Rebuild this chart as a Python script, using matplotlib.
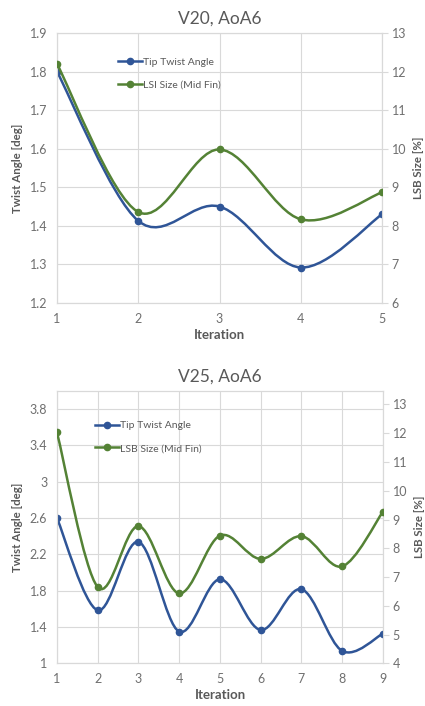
import numpy as np
import matplotlib
matplotlib.use("Agg")
import matplotlib.pyplot as plt
from matplotlib.path import Path
from matplotlib.patches import PathPatch
from matplotlib.lines import Line2D

plt.rcParams['font.family'] = ['Lato', 'DejaVu Sans']

BLUE = "#2f5597"
GREEN = "#548235"
TXT = "#595959"
TICK = "#6f6f6f"
GRID = "#d9d9d9"

# V20, AoA6
iter_v20 = [1, 2, 3, 4, 5]
twist_v20 = [1.80, 1.413, 1.45, 1.292, 1.43]
lsb_v20 = [12.20, 8.36, 9.98, 8.17, 8.87]

# V25, AoA6
iter_v25 = [1, 2, 3, 4, 5, 6, 7, 8, 9]
twist_v25 = [2.60, 1.584, 2.338, 1.349, 1.926, 1.367, 1.816, 1.136, 1.327]
lsb_v25 = [12.03, 6.65, 8.77, 6.43, 8.44, 7.63, 8.42, 7.37, 9.27]


def smooth_path(x, y):
    # excel-like smoothed line: cubic bezier with catmull-rom control points
    x = np.asarray(x, float)
    y = np.asarray(y, float)
    px = np.concatenate([[x[0]], x, [x[-1]]])
    py = np.concatenate([[y[0]], y, [y[-1]]])
    verts = [(x[0], y[0])]
    codes = [Path.MOVETO]
    for i in range(1, len(px) - 2):
        c1 = (px[i] + (px[i + 1] - px[i - 1]) / 6, py[i] + (py[i + 1] - py[i - 1]) / 6)
        c2 = (px[i + 1] - (px[i + 2] - px[i]) / 6, py[i + 1] - (py[i + 2] - py[i]) / 6)
        verts += [c1, c2, (px[i + 1], py[i + 1])]
        codes += [Path.CURVE4] * 3
    return Path(verts, codes)


def draw_series(ax, x, y, color):
    ax.add_patch(PathPatch(smooth_path(x, y), fc="none", ec=color, lw=1.8, zorder=3))
    ax.plot(x, y, "o", color=color, ms=4.5, zorder=4)


def panel(rect, xs, tw, lsb, title, lylim, lyticks, lytl, rylim, ryticks, leg_label, leg_xy):
    ax = fig.add_axes(rect)
    ax2 = ax.twinx()
    draw_series(ax, xs, tw, BLUE)
    draw_series(ax2, xs, lsb, GREEN)
    ax.set_xlim(xs[0], xs[-1])
    ax.set_ylim(*lylim)
    ax.set_yticks(lyticks)
    ax.set_yticklabels(lytl)
    ax2.set_ylim(*rylim)
    ax2.set_yticks(ryticks)
    ax.set_xticks(xs)
    ax.grid(True, color=GRID, lw=0.8)
    ax.set_axisbelow(True)
    for a in (ax, ax2):
        for s in a.spines.values():
            s.set_color(GRID)
            s.set_linewidth(0.8)
        a.tick_params(colors=TICK, labelsize=9)
    ax.tick_params(axis="y", length=0, pad=7)
    ax.tick_params(axis="x", length=0, pad=7)
    ax2.tick_params(axis="y", length=4, color=GRID, pad=3)
    ax.set_title(title, fontsize=12.5, color=TXT, pad=7)
    ax.set_xlabel("Iteration", fontsize=9.5, fontweight="bold", color=TXT, labelpad=3)
    ax.set_ylabel("Twist Angle [deg]", fontsize=8.3, fontweight="bold", color=TXT, labelpad=5)
    ax2.set_ylabel("LSB Size [%]", fontsize=8.3, fontweight="bold", color=TXT, labelpad=5)
    handles = [Line2D([], [], color=BLUE, lw=1.8, marker="o", ms=4.5),
               Line2D([], [], color=GREEN, lw=1.8, marker="o", ms=4.5)]
    leg = ax.legend(handles, ["Tip Twist Angle", leg_label], loc="upper left",
                    bbox_to_anchor=leg_xy, frameon=False, fontsize=7.5,
                    handlelength=2.3, handletextpad=0.1, labelspacing=1.3,
                    labelcolor=TXT, borderaxespad=0)
    leg.set_zorder(5)
    return ax, ax2


fig = plt.figure(figsize=(4.25, 7.06), dpi=100)

panel([0.134, 0.5708, 0.765, 0.3825], iter_v20, twist_v20, lsb_v20, "V20, AoA6",
      (1.2, 1.9), np.round(np.arange(1.2, 1.95, 0.1), 1),
      ["%.1f" % v for v in np.arange(1.2, 1.95, 0.1)],
      (6, 13), range(6, 14), "LSI Size (Mid Fin)", (0.175, 0.925))

lt = [1, 1.4, 1.8, 2.2, 2.6, 3, 3.4, 3.8]
panel([0.134, 0.0605, 0.767, 0.3857], iter_v25, twist_v25, lsb_v25, "V25, AoA6",
      (1.0, 4.0), lt, ["%g" % v for v in lt],
      (4, 13.47), range(4, 14), "LSB Size (Mid Fin)", (0.105, 0.905))

fig.savefig("out.png", dpi=100)
